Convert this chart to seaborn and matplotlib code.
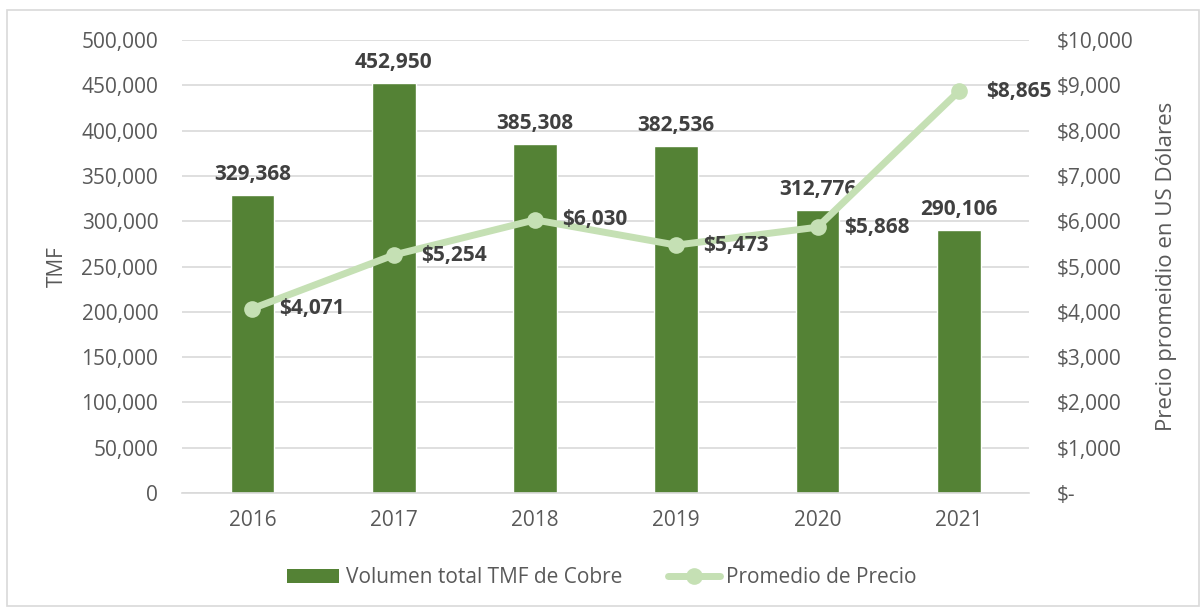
import matplotlib
matplotlib.use("Agg")
import matplotlib.pyplot as plt
import seaborn as sns
import pandas as pd
from matplotlib.lines import Line2D
from matplotlib.patches import Patch, Rectangle
from matplotlib.ticker import FuncFormatter

years   = ["2016", "2017", "2018", "2019", "2020", "2021"]
volumen = [329368, 452950, 385308, 382536, 312776, 290106]
precio  = [4071, 5254, 6030, 5473, 5868, 8865]

BAR_COLOR  = "#548235"
LINE_COLOR = "#C5E0B4"
TEXT_COLOR = "#595959"
LABEL_COLOR = "#404040"

sns.set_style("white")
plt.rcParams["font.family"] = ["Open Sans", "DejaVu Sans"]

df = pd.DataFrame({"year": years, "volumen": volumen, "precio": precio})

fig = plt.figure(figsize=(12.04, 6.12), dpi=100)
ax = fig.add_axes([0.151, 0.1944, 0.704, 0.7402])

# barras: volumen (eje izquierdo)
sns.barplot(data=df, x="year", y="volumen", color=BAR_COLOR, width=0.31,
            saturation=1, ax=ax, zorder=2)
ax.set_ylim(0, 500000)
ax.set_yticks(range(0, 500001, 50000))
ax.yaxis.set_major_formatter(FuncFormatter(lambda v, p: f"{int(v):,}"))
ax.grid(axis="y", color="#D9D9D9", lw=1.2, zorder=0)
ax.set_axisbelow(True)
for s in ["top", "left", "right"]:
    ax.spines[s].set_visible(False)
ax.spines["bottom"].set_color("#D9D9D9")
ax.spines["bottom"].set_linewidth(1.2)
ax.tick_params(axis="y", length=0, labelsize=15, colors=TEXT_COLOR, pad=17)
ax.tick_params(axis="x", length=0, labelsize=15, colors=TEXT_COLOR, pad=12)
ax.set_xlabel("")
ax.set_ylabel("TMF", fontsize=15, color=TEXT_COLOR, labelpad=10)
ax.set_xlim(-0.5, 5.5)

for i, v in enumerate(volumen):
    ax.annotate(f"{v:,}", (i, v), xytext=(0, 10), textcoords="offset pixels",
                ha="center", va="bottom", fontsize=15, fontweight="bold",
                color=LABEL_COLOR)

# linea: precio (eje derecho)
ax2 = ax.twinx()
sns.lineplot(data=df, x="year", y="precio", color=LINE_COLOR, lw=5,
             marker="o", markersize=12, markeredgewidth=0, ax=ax2, sort=False)
ax2.set_ylim(0, 10000)
ax2.set_yticks(range(0, 10001, 1000))
ax2.yaxis.set_major_formatter(
    FuncFormatter(lambda v, p: "$-" if v == 0 else f"${int(v):,}"))
for s in ["top", "left", "right", "bottom"]:
    ax2.spines[s].set_visible(False)
ax2.tick_params(axis="y", length=0, labelsize=15, colors=TEXT_COLOR, pad=20)
ax2.set_ylabel("Precio promeidio en US Dólares", fontsize=16, color=TEXT_COLOR,
               labelpad=16)
ax2.set_xlim(-0.5, 5.5)

for i, v in enumerate(precio):
    ax2.annotate(f"${v:,}", (i, v), xytext=(27, 0), textcoords="offset pixels",
                 ha="left", va="center", fontsize=15, fontweight="bold",
                 color=LABEL_COLOR)

handles = [
    Patch(facecolor=BAR_COLOR, edgecolor="none", label="Volumen total TMF de Cobre"),
    Line2D([], [], color=LINE_COLOR, lw=5, marker="o", markersize=12,
           markeredgewidth=0, label="Promedio de Precio"),
]
fig.legend(handles=handles, loc="center", bbox_to_anchor=(0.5, 0.056), ncol=2,
           frameon=False, fontsize=15, labelcolor=TEXT_COLOR, handlelength=2.5,
           handletextpad=0.3, columnspacing=2.2)

fig.patches.append(Rectangle((0.006, 0.01), 0.99, 0.974, transform=fig.transFigure,
                             fill=False, edgecolor="#D9D9D9", lw=1.2))

fig.savefig("out.png", dpi=100)
